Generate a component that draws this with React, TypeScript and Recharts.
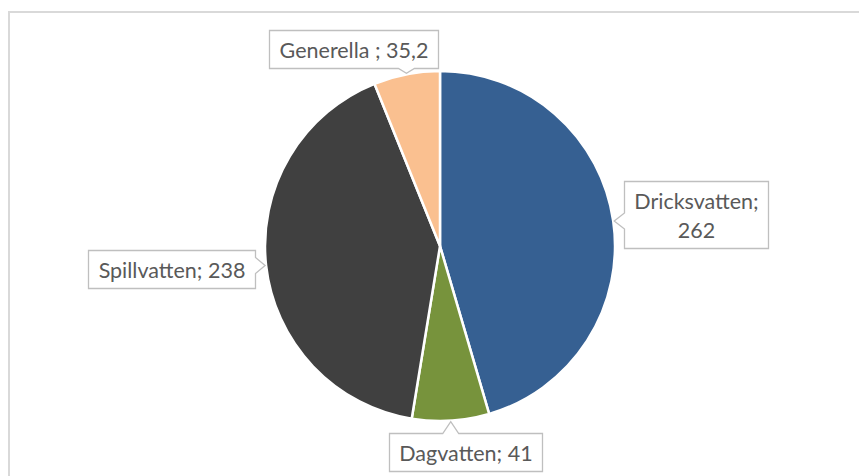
import React from 'react';
import { PieChart, Pie, Cell } from 'recharts';

// chart data
const categories = ['Dricksvatten', 'Dagvatten', 'Spillvatten', 'Generella '];
const values = [262, 41, 238, 35.2];
const sliceColors = ['#366092', '#77933c', '#404040', '#fac090'];

// labels that Excel wrapped onto two lines
const wrappedLabels = ['Dricksvatten'];
// small manual nudges for label boxes (best-fit placement in the original)
const labelNudge: Record<string, [number, number]> = {
  Dagvatten: [10, 0],
  'Generella ': [-35, 5],
};

const FONT = '21.5px Lato';
const LINE_H = 29;
const PAD_X = 10;
const PAD_Y = 4.5;

const data = categories.map((name, i) => ({ name, value: values[i] }));

let ctx: CanvasRenderingContext2D | null = null;
const measure = (t: string) => {
  if (!ctx) ctx = document.createElement('canvas').getContext('2d');
  if (!ctx) return t.length * 10;
  ctx.font = FONT;
  return ctx.measureText(t).width;
};

const fmt = (v: number) => String(v).replace('.', ',');

const calloutPath = (x0: number, y0: number, x1: number, y1: number, tx: number, ty: number) => {
  const hw = 8;
  const clamp = (v: number, a: number, b: number) => Math.max(a, Math.min(b, v));
  const dists = {
    left: x0 - tx,
    right: tx - x1,
    top: y0 - ty,
    bottom: ty - y1,
  };
  const side = (Object.keys(dists) as (keyof typeof dists)[]).reduce((a, b) => (dists[b] > dists[a] ? b : a));
  const pts: [number, number][] = [];
  pts.push([x0, y0]);
  if (side === 'top') {
    const c = clamp(tx, x0 + hw + 4, x1 - hw - 4);
    pts.push([c - hw, y0], [tx, ty], [c + hw, y0]);
  }
  pts.push([x1, y0]);
  if (side === 'right') {
    const c = clamp(ty, y0 + hw + 4, y1 - hw - 4);
    pts.push([x1, c - hw], [tx, ty], [x1, c + hw]);
  }
  pts.push([x1, y1]);
  if (side === 'bottom') {
    const c = clamp(tx, x0 + hw + 4, x1 - hw - 4);
    pts.push([c + hw, y1], [tx, ty], [c - hw, y1]);
  }
  pts.push([x0, y1]);
  if (side === 'left') {
    const c = clamp(ty, y0 + hw + 4, y1 - hw - 4);
    pts.push([x0, c + hw], [tx, ty], [x0, c - hw]);
  }
  return 'M' + pts.map((p) => `${p[0]},${p[1]}`).join(' L') + ' Z';
};

const CalloutLabel = (props: any) => {
  const { cx, cy, midAngle, outerRadius, name, value } = props;
  const rad = (-midAngle * Math.PI) / 180;
  const cos = Math.cos(rad);
  const sin = Math.sin(rad);
  const lines = wrappedLabels.includes(name) ? [`${name};`, fmt(value)] : [`${name}; ${fmt(value)}`];
  const w = Math.max(...lines.map(measure)) + PAD_X * 2;
  const h = lines.length * LINE_H + PAD_Y * 2;
  const ar = outerRadius + 12;
  const nudge = labelNudge[name] || [0, 0];
  const bx = cx + ar * cos + (cos * w) / 2 + nudge[0];
  const by = cy + ar * sin + (sin * h) / 2 + nudge[1];
  const x0 = Math.round(bx - w / 2) + 0.5;
  const y0 = Math.round(by - h / 2) + 0.5;
  const x1 = x0 + Math.round(w);
  const y1 = y0 + Math.round(h);
  const tx = cx + (outerRadius + 1) * cos;
  const ty = cy + (outerRadius + 1) * sin;
  return (
    <g>
      <path d={calloutPath(x0, y0, x1, y1, tx, ty)} fill="#ffffff" stroke="#bfbfbf" strokeWidth={1.3} />
      {lines.map((l, i) => (
        <text
          key={i}
          x={(x0 + x1) / 2}
          y={y0 + PAD_Y + LINE_H * i + LINE_H / 2}
          textAnchor="middle"
          dominantBaseline="central"
          fill="#595959"
          style={{ font: FONT }}
        >
          {l}
        </text>
      ))}
    </g>
  );
};

export default function App() {
  return (
    <div style={{ position: 'fixed', left: 0, top: 0, width: 859, height: 476, overflow: 'hidden', background: '#fff' }}>
      <div
        style={{
          position: 'absolute',
          left: 8,
          top: 11,
          width: 880,
          height: 500,
          border: '2px solid #d9d9d9',
        }}
      />
      <div style={{ position: 'absolute', left: 0, top: 0 }}>
        <PieChart width={859} height={476} margin={{ top: 0, right: 0, bottom: 0, left: 0 }}>
          <Pie
            data={data}
            dataKey="value"
            nameKey="name"
            cx={440}
            cy={246}
            outerRadius={175}
            startAngle={90}
            endAngle={-270}
            stroke="#ffffff"
            strokeWidth={2.5}
            labelLine={false}
            label={CalloutLabel}
            isAnimationActive={false}
          >
            {data.map((d, i) => (
              <Cell key={d.name} fill={sliceColors[i]} />
            ))}
          </Pie>
        </PieChart>
      </div>
    </div>
  );
}
